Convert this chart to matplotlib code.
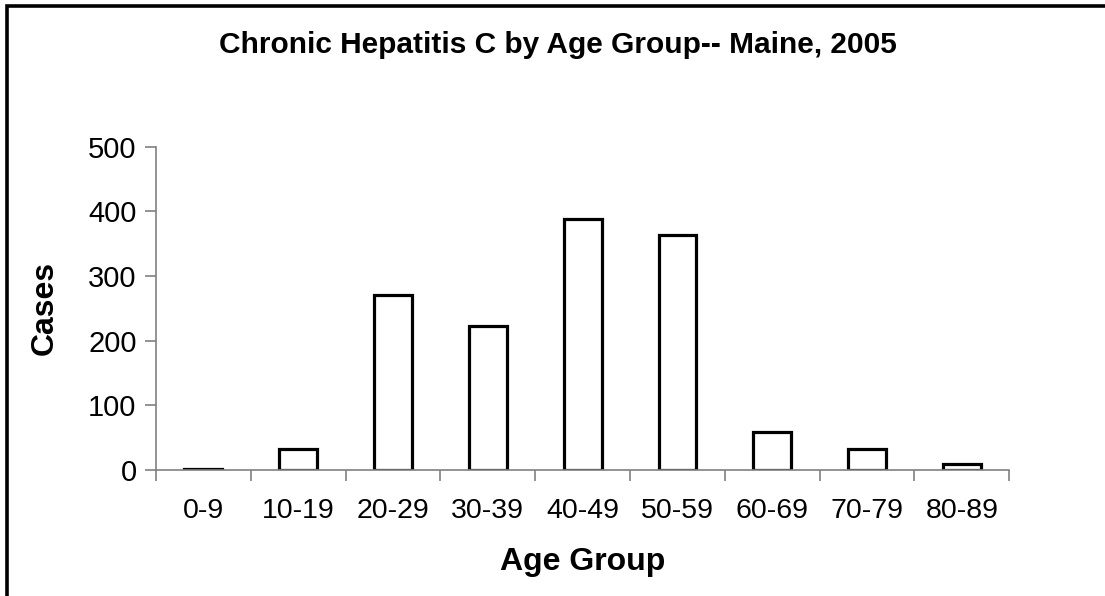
import matplotlib.pyplot as plt
from matplotlib.patches import Rectangle

plt.rcParams['font.family'] = ['Liberation Sans', 'DejaVu Sans']

age_groups = ['0-9', '10-19', '20-29', '30-39', '40-49', '50-59', '60-69', '70-79', '80-89']
cases = [2, 32, 270, 222, 388, 363, 58, 33, 10]
y_ticks = [0, 100, 200, 300, 400, 500]

fig = plt.figure(figsize=(11.05, 5.96), dpi=100)
ax = fig.add_axes([0.1412, 0.2114, 0.7722, 0.5425])

x = range(len(age_groups))
ax.bar(x, cases, width=0.4, color='white', edgecolor='black', linewidth=2.3)

ax.set_xlim(-0.5, len(age_groups) - 0.5)
ax.set_ylim(0, 500)
ax.set_yticks(y_ticks)
ax.set_yticklabels([str(t) for t in y_ticks], fontsize=21)
# group boundaries get the tick marks, group centres get the labels
ax.set_xticks([i - 0.5 for i in range(len(age_groups) + 1)])
ax.set_xticklabels([])
ax.set_xticks(list(x), minor=True)
ax.set_xticklabels(age_groups, minor=True, fontsize=20.5)
ax.tick_params(axis='x', which='minor', length=0, pad=20)
ax.tick_params(axis='x', which='major', length=8, color='#808080', width=1.2)
ax.tick_params(axis='y', length=8, color='#808080', width=1.2, pad=6)

for side in ['top', 'right']:
    ax.spines[side].set_visible(False)
for side in ['left', 'bottom']:
    ax.spines[side].set_color('#808080')
    ax.spines[side].set_linewidth(1.2)

ax.set_xlabel('Age Group', fontsize=23, fontweight='bold')
ax.xaxis.set_label_coords(0.5, -0.238)
ax.set_ylabel('Cases', fontsize=23, fontweight='bold')
ax.yaxis.set_label_coords(-0.1125, 0.5)
fig.text(0.505, 0.925, 'Chronic Hepatitis C by Age Group-- Maine, 2005',
         ha='center', va='center', fontsize=21.5, fontweight='bold')

# outer chart frame (right and bottom edges fall outside the image)
fig.patches.append(Rectangle((0.0063, -0.05), 1.05, 1.0391, transform=fig.transFigure,
                             fill=False, edgecolor='black', linewidth=2.6))

fig.savefig('out.png', dpi=100)
